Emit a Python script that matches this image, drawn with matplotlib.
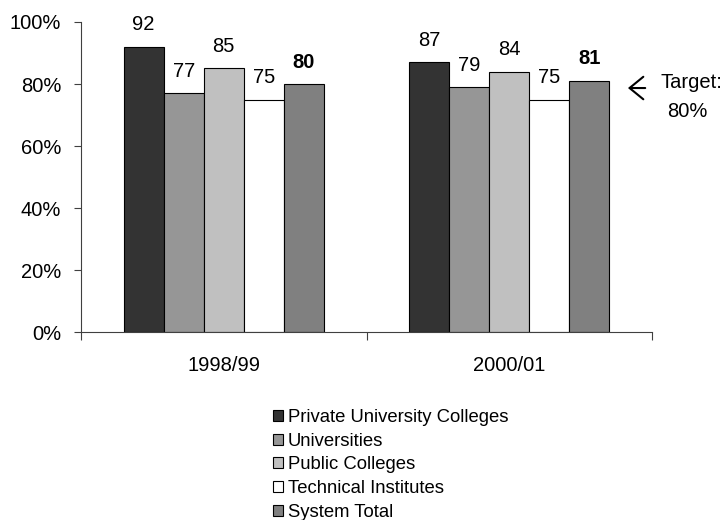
import numpy as np
import matplotlib.pyplot as plt
from matplotlib.patches import Patch

plt.rcParams['font.family'] = ['Liberation Sans', 'DejaVu Sans']

periods = ['1998/99', '2000/01']
series = ['Private University Colleges', 'Universities', 'Public Colleges',
          'Technical Institutes', 'System Total']
values = [
    [92, 87],
    [77, 79],
    [85, 84],
    [75, 75],
    [80, 81],
]
colors = ['#333333', '#969696', '#c0c0c0', '#ffffff', '#808080']

fig = plt.figure(figsize=(7.28, 5.2), dpi=100)
ax = fig.add_axes([0.111, 0.3615, 0.785, 0.5962])

x = np.arange(len(periods))
width = 0.14
offsets = (np.arange(len(series)) - 2) * width

for i, name in enumerate(series):
    bars = ax.bar(x + offsets[i], values[i], width, color=colors[i],
                  edgecolor='black', linewidth=0.8, label=name)
    for b, v in zip(bars, values[i]):
        ax.text(b.get_x() + b.get_width() / 2, v + 4, str(v),
                ha='center', va='bottom', fontsize=14.5,
                fontweight='bold' if name == 'System Total' else 'normal')

ax.set_xlim(-0.5, 1.5)
ax.set_ylim(0, 100)
ax.set_yticks(range(0, 101, 20))
ax.set_yticklabels([f'{t}%' for t in range(0, 101, 20)], fontsize=14.5)
ax.set_xticks([-0.5, 0.5, 1.5])
ax.set_xticklabels([])
ax.set_xticks(x, minor=True)
ax.set_xticklabels(periods, minor=True, fontsize=14.5)
ax.tick_params(axis='x', which='major', length=6, direction='out', color='#404040')
ax.tick_params(axis='x', which='minor', length=0, pad=17)
ax.tick_params(axis='y', length=5, direction='out', pad=9, color='#404040')
for s in ['top', 'right']:
    ax.spines[s].set_visible(False)
for s in ['left', 'bottom']:
    ax.spines[s].set_color('#404040')

# target note
ax.annotate('', xy=(1.405, 78.7), xytext=(1.485, 78.7),
            arrowprops=dict(arrowstyle='->,head_length=0.33,head_width=0.27',
                            color='black', lw=1.5, mutation_scale=30),
            annotation_clip=False)
ax.text(1.528, 80.6, 'Target:', fontsize=14.5, ha='left', va='center', clip_on=False)
ax.text(1.623, 71, '80%', fontsize=14.5, ha='center', va='center', clip_on=False)

handles = [Patch(facecolor=c, edgecolor='black', linewidth=0.8) for c in colors]
fig.legend(handles, series, loc='upper left', bbox_to_anchor=(0.375, 0.2135),
           frameon=False, fontsize=13.3, handlelength=0.54, handleheight=0.54,
           handletextpad=0.27, labelspacing=0.36, borderaxespad=0, borderpad=0)

fig.savefig('out.png', dpi=100, facecolor='white')
